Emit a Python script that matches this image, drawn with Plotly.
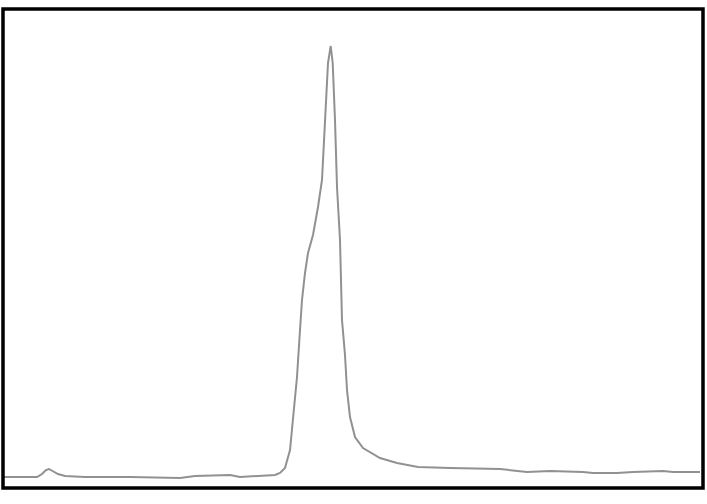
# Chromatogram-style trace: a single sharp peak on a flat baseline.

import plotly.graph_objects as go

# retention time (min) and detector signal
time_min = [0, 0.85, 1.7, 1.95, 2.15, 2.3, 2.5, 2.75, 3.1, 4.1, 6.35, 8.85, 9.6, 11.35,
            11.85, 12.6, 13.6, 13.85, 14.1, 14.35, 14.5, 14.7, 14.85, 14.95, 15.1, 15.25,
            15.5, 15.75, 15.95, 16.1, 16.25, 16.385, 16.485, 16.6, 16.7, 16.85, 16.95,
            17.1, 17.2, 17.35, 17.6, 18.0, 18.85, 19.7, 20.75, 22.35,
            24.85, 26.2, 27.35, 29.0, 29.5, 30.7, 31.5, 33.0, 33.5, 34.85]
signal = [2.75, 2.75, 2.75, 3.5, 4.5, 4.75, 4.25, 3.5, 3.0, 2.75, 2.75, 2.5, 3.0, 3.25,
          2.75, 3.0, 3.25, 3.75, 5.0, 9.5, 17.0, 27.75, 39.5, 47.0, 53.75, 58.75,
          63.25, 70.25, 77.0, 92.0, 106.25, 110.5, 106.25, 92.0, 75.25, 62.0, 42.0,
          33.25, 24.5, 17.75, 12.75, 10.0, 7.5, 6.25, 5.25, 5.0,
          4.75, 4.0, 4.25, 4.0, 3.75, 3.75, 4.0, 4.25, 4.0, 4.0]

fig = go.Figure()

fig.add_trace(go.Scatter(x=time_min, y=signal, mode='lines',
                         line=dict(color='rgb(145, 145, 145)', width=2),
                         showlegend=False, hoverinfo='skip'))

# black frame round the plot area
fig.add_shape(type='rect', xref='paper', yref='paper', x0=0, y0=0, x1=1, y1=1,
              line=dict(color='black', width=3.5))

fig.update_xaxes(range=[0, 35], showgrid=False, zeroline=False, showticklabels=False,
                 showline=False, ticks='')
fig.update_yaxes(range=[0, 119.75], showgrid=False, zeroline=False, showticklabels=False,
                 showline=False, ticks='')

fig.update_layout(width=707, height=504, margin=dict(l=3, r=4, t=9, b=16),
                  paper_bgcolor='white', plot_bgcolor='white')

# drop the browser's default body margin so the figure sits at the page corner
fig.write_html("out.html", config={'displayModeBar': False},
               post_script="document.body.style.margin='0px';")
